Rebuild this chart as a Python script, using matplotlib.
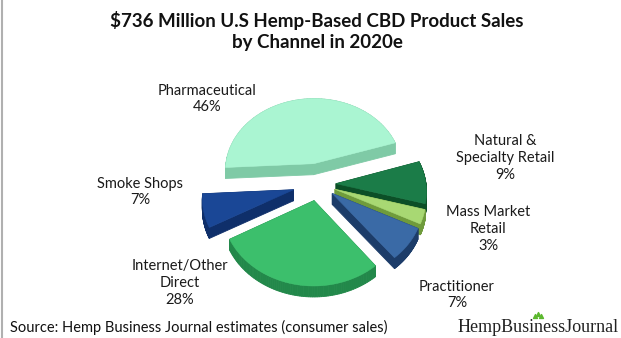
import numpy as np
import matplotlib.pyplot as plt
from matplotlib.patches import Polygon

plt.rcParams['font.family'] = ['Lato', 'DejaVu Sans']

# sales share by channel, clockwise from the left edge
channels = ['Pharmaceutical', 'Natural &\nSpecialty Retail', 'Mass Market\nRetail',
            'Practitioner', 'Internet/Other\nDirect', 'Smoke Shops']
shares = [46, 9, 3, 7, 28, 7]
explode = [0.28, 0.2, 0.2, 0.2, 0.22, 0.28]
top_colors = ['#aaf5d2', '#1b7c48', '#a8d873', '#3a6aa6', '#3cbf6c', '#1a4796']
side_colors = ['#7fcaa6', '#0c4f27', '#6f9b3c', '#1c3c69', '#22884a', '#0f2f6a']
label_pos = [(207, 99), (505, 158), (488, 229), (457, 295), (180, 283), (140, 192)]

W, H = 621, 338
fig = plt.figure(figsize=(W / 100, H / 100), dpi=100)
ax = fig.add_axes([0, 0, 1, 1])
ax.set_xlim(0, W)
ax.set_ylim(H, 0)
ax.axis('off')

cx, cy, R = 318, 184, 90
tilt, persp, depth = 0.84, 0.09, 11


def project(x, y):
    s = 1 - persp * y / R
    return cx + x * s, cy - y * tilt * s


edges = 183 - np.cumsum([0] + shares) / sum(shares) * 360
slices = []
for i in range(len(shares)):
    a0, a1 = np.radians(edges[i]), np.radians(edges[i + 1])
    mid = (a0 + a1) / 2
    ox, oy = explode[i] * R * np.cos(mid), explode[i] * R * np.sin(mid)
    t = np.linspace(a0, a1, 80)
    xs = np.concatenate([[ox], ox + R * np.cos(t)])
    ys = np.concatenate([[oy], oy + R * np.sin(t)])
    px, py = project(xs, ys)
    slices.append((oy, i, np.column_stack([px, py])))

# back slices first so the front ones overlap them
for oy, i, top in sorted(slices, key=lambda s: -s[0]):
    n = len(top)
    for j in range(n):
        p, q = top[j], top[(j + 1) % n]
        quad = [p, q, q + [0, depth], p + [0, depth]]
        ax.add_patch(Polygon(quad, closed=True, fc=side_colors[i],
                             ec=side_colors[i], lw=0.6))
    ax.add_patch(Polygon(top, closed=True, fc=top_colors[i],
                         ec=top_colors[i], lw=0.4))

for name, pct, (lx, ly) in zip(channels, shares, label_pos):
    ax.text(lx, ly, f'{name}\n{pct}%', ha='center', va='center',
            fontsize=10.5, linespacing=1.25, color='#1a1a1a')

ax.text(317, 31, '$736 Million U.S Hemp-Based CBD Product Sales\nby Channel in 2020e',
        ha='center', va='center', fontsize=13.5, fontweight='bold',
        linespacing=1.35, color='#111111')

ax.text(10, 327, 'Source: Hemp Business Journal estimates (consumer sales)',
        ha='left', va='center', fontsize=10.5, color='#111111')

# logo
ax.text(619, 327, 'HempBusinessJournal', ha='right', va='center',
        fontsize=13, family='Liberation Serif', color='#222222')
ax.scatter([535, 538, 541], [315.5, 314, 315.5], s=8, marker='^', color='#5cb82e')

ax.plot([1.5, 1.5], [0, H], color='#b0b0b0', lw=1.5)

fig.savefig('out.png', dpi=100)
